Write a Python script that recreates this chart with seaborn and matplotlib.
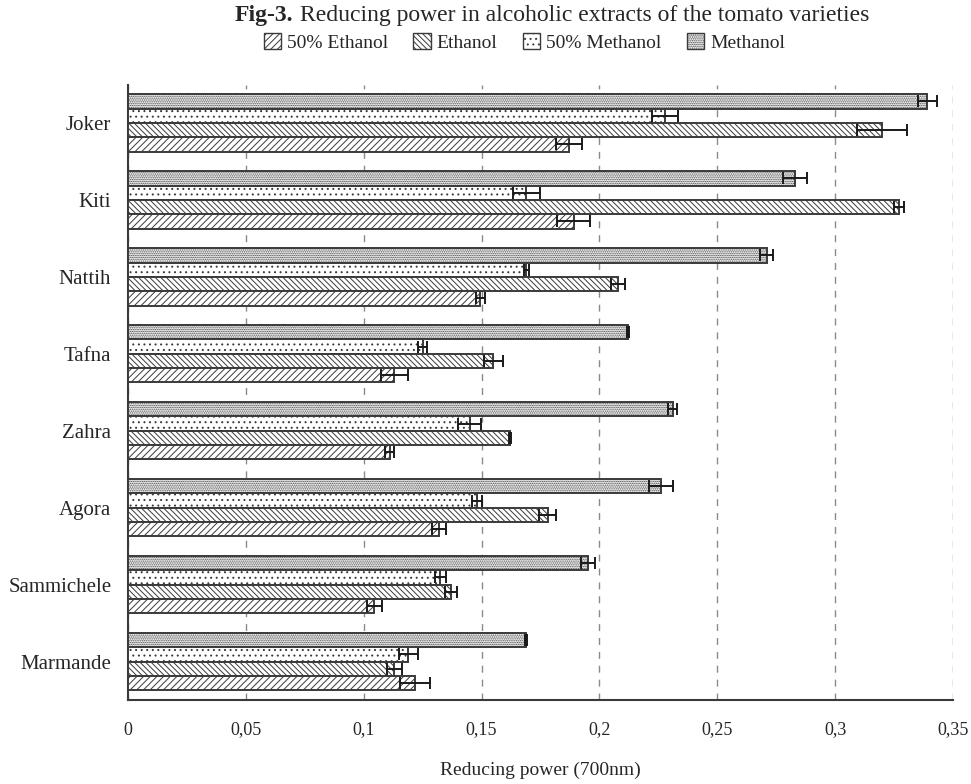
import numpy as np
import pandas as pd
import matplotlib
matplotlib.use("Agg")
import matplotlib.pyplot as plt
from matplotlib.patches import Patch
from matplotlib.ticker import FuncFormatter
from matplotlib.offsetbox import TextArea, HPacker, AnchoredOffsetbox
import seaborn as sns

# ---------------- data ----------------
varieties = ['Joker', 'Kiti', 'Nattih', 'Tafna', 'Zahra', 'Agora', 'Sammichele', 'Marmande']
methanol = [0.339, 0.283, 0.271, 0.212, 0.231, 0.226, 0.195, 0.169]
methanol_err = [0.004, 0.005, 0.0027, 0.0005, 0.002, 0.005, 0.003, 0.0004]
methanol50 = [0.228, 0.169, 0.169, 0.125, 0.145, 0.148, 0.1325, 0.119]
methanol50_err = [0.0055, 0.0058, 0.001, 0.002, 0.0048, 0.002, 0.0024, 0.0039]
ethanol = [0.320, 0.327, 0.208, 0.155, 0.162, 0.178, 0.137, 0.113]
ethanol_err = [0.0106, 0.002, 0.003, 0.004, 0.0005, 0.0035, 0.0026, 0.0032]
ethanol50 = [0.187, 0.189, 0.1495, 0.113, 0.111, 0.132, 0.1044, 0.1217]
ethanol50_err = [0.0056, 0.0068, 0.0018, 0.0058, 0.002, 0.0029, 0.0032, 0.0064]
legend_order = ['50% Ethanol', 'Ethanol', '50% Methanol', 'Methanol']
xticks = [0, 0.05, 0.1, 0.15, 0.2, 0.25, 0.3, 0.35]

draw_order = ['Methanol', '50% Methanol', 'Ethanol', '50% Ethanol']
series = {'Methanol': (methanol, methanol_err),
          '50% Methanol': (methanol50, methanol50_err),
          'Ethanol': (ethanol, ethanol_err),
          '50% Ethanol': (ethanol50, ethanol50_err)}
hatches = {'Methanol': '.........', '50% Methanol': '...',
           'Ethanol': '\\\\\\\\\\\\', '50% Ethanol': '/////'}

rows = []
for s in draw_order:
    for v, val in zip(varieties, series[s][0]):
        rows.append({'variety': v, 'solvent': s, 'value': val})
df = pd.DataFrame(rows)

# ---------------- style ----------------
sns.set_style('white')
plt.rcParams['font.family'] = ['Liberation Serif', 'DejaVu Serif']
plt.rcParams['hatch.linewidth'] = 0.7
edge = '#3a3a3a'

fig = plt.figure(figsize=(9.71, 7.84), dpi=100)
ax = fig.add_axes([0.1318, 0.1071, 0.8497, 0.7851])

sns.barplot(data=df, x='value', y='variety', hue='solvent', orient='h',
            order=varieties, hue_order=draw_order, width=0.745,
            palette={s: 'white' for s in draw_order}, edgecolor=edge,
            linewidth=1.4, errorbar=None, legend=False, ax=ax, zorder=3)

for cont, s in zip(ax.containers, draw_order):
    ys, xs = [], []
    for b in cont:
        b.set_hatch(hatches[s])
        b.set_edgecolor(edge)
        ys.append(b.get_y() + b.get_height() / 2)
        xs.append(b.get_width())
    ax.errorbar(xs, ys, xerr=series[s][1], fmt='none', ecolor='#1a1a1a',
                elinewidth=1.4, capsize=4, capthick=1.4, zorder=5)

ax.set_xlim(0, 0.35)
ax.set_ylim(len(varieties) - 0.5, -0.5)
ax.set_xticks(xticks)
ax.xaxis.set_major_formatter(FuncFormatter(lambda v, p: ('%g' % round(v, 3)).replace('.', ',')))
ax.set_yticks(np.arange(-0.5, len(varieties), 1), minor=True)
ax.tick_params(axis='y', which='major', length=0, pad=12, labelsize=15)
ax.tick_params(axis='y', which='minor', length=6, width=1.3, direction='out', color=edge)
ax.tick_params(axis='x', which='major', length=9, width=1.3, direction='inout',
               color=edge, pad=11, labelsize=13)
ax.xaxis.grid(True, linestyle=(0, (5, 5)), color='#8a8a8a', linewidth=1.0, zorder=0)
ax.set_axisbelow(True)
for sp in ['top', 'right']:
    ax.spines[sp].set_visible(False)
for sp in ['left', 'bottom']:
    ax.spines[sp].set_color(edge)
    ax.spines[sp].set_linewidth(1.5)
ax.set_ylabel('')
ax.set_xlabel('Reducing power (700nm)', fontsize=14, labelpad=17)

# legend
handles = [Patch(facecolor='white', edgecolor=edge, hatch=hatches[s], label=s, linewidth=1.0)
           for s in legend_order]
fig.legend(handles=handles, loc='center', bbox_to_anchor=(0.54, 0.946), ncol=4,
           frameon=False, handlelength=0.9, handleheight=0.9, handletextpad=0.3,
           columnspacing=1.3, fontsize=14)

# title
box = HPacker(children=[TextArea('Fig-3.', textprops=dict(fontsize=17, weight='bold')),
                        TextArea('Reducing power in alcoholic extracts of the tomato varieties',
                                 textprops=dict(fontsize=17))],
              align='baseline', pad=0, sep=5)
anch = AnchoredOffsetbox(loc='center', child=box, frameon=False, pad=0, borderpad=0,
                         bbox_to_anchor=(0.568, 0.980), bbox_transform=fig.transFigure)
fig.add_artist(anch)

fig.savefig('out.png', dpi=100)
